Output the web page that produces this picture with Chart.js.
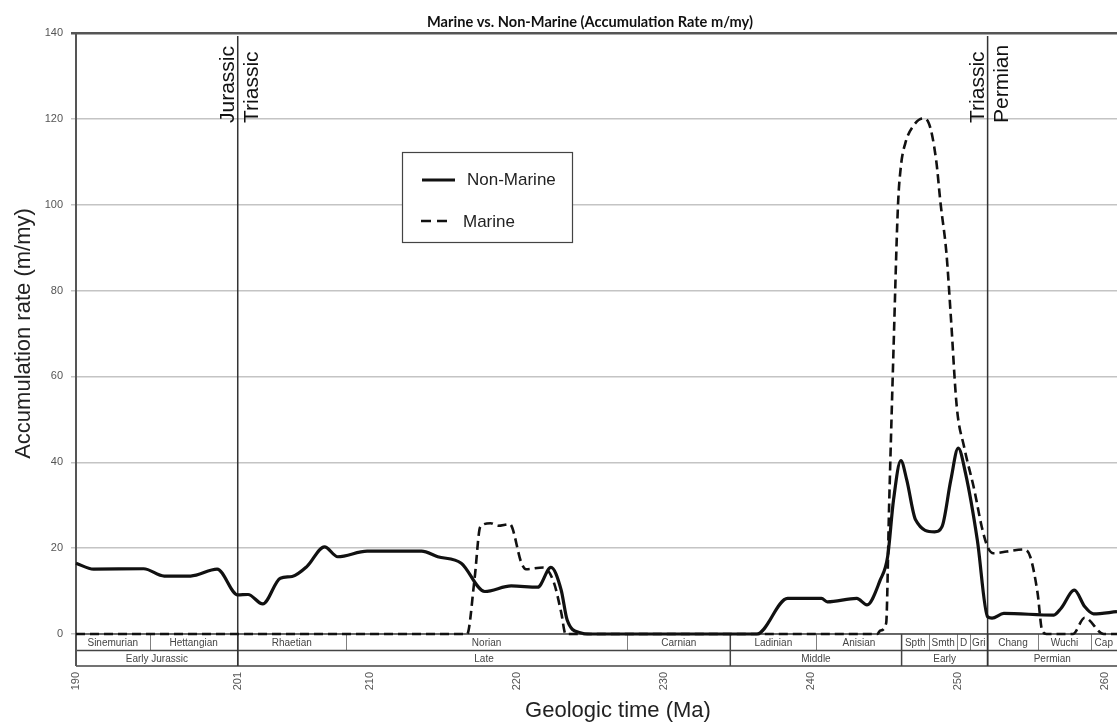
<!DOCTYPE html>
<html>
<head>
<meta charset="utf-8">
<script src="https://cdn.jsdelivr.net/npm/chart.js@4/dist/chart.umd.min.js"></script>
<style>
  html, body { margin: 0; padding: 0; background: #fff; }
  #wrap { width: 1117px; height: 723px; position: relative; }
</style>
</head>
<body>
<div id="wrap"><canvas id="c" width="1117" height="723"></canvas></div>
<script>
// Accumulation rate curves (age in Ma, rate in m/my)
const nonMarineAge = [190.0, 191.2, 194.6, 196.0, 197.8, 199.6, 201.0, 201.7, 202.7, 203.9, 204.7, 205.7, 206.9, 207.8, 209.8, 213.5, 214.6, 216.2, 217.8, 219.6, 221.4, 222.3, 223.0, 223.4, 224.3, 225.0, 236.3, 238.4, 240.7, 241.1, 243.1, 243.8, 244.7, 245.2, 245.6, 246.1, 246.5, 247.1, 248.4, 248.9, 249.5, 250.0, 250.5, 251.3, 252.0, 252.3, 253.1, 256.5, 257.0, 257.9, 258.6, 259.2, 260.8];
const nonMarineRate = [16.5, 15.1, 15.2, 13.5, 13.5, 15.1, 9.1, 9.2, 7.0, 13.0, 13.4, 15.7, 20.3, 18.0, 19.3, 19.3, 18.0, 16.5, 9.9, 11.2, 10.9, 15.5, 10.2, 3.3, 0.3, 0, 0, 8.3, 8.3, 7.5, 8.3, 6.8, 12.6, 18.0, 31.2, 40.4, 35.9, 26.6, 23.8, 25.0, 35.9, 43.3, 37.4, 21.9, 4.0, 3.7, 4.8, 4.4, 6.0, 10.2, 6.4, 4.7, 5.2];

const marineAge = [190.0, 216.6, 217.1, 217.5, 218.2, 218.7, 219.5, 220.3, 220.6, 221.8, 222.5, 223.0, 223.3, 244.5, 244.7, 245.1, 245.3, 245.6, 245.9, 246.1, 246.4, 247.0, 247.6, 248.0, 248.5, 248.8, 249.2, 249.5, 249.9, 250.4, 251.1, 251.6, 252.0, 252.4, 253.3, 254.5, 254.9, 255.4, 255.7, 256.0, 257.8, 258.6, 259.9, 260.8];
const marineRate = [0, 0, 12.6, 25.0, 25.8, 25.2, 25.6, 16.5, 15.1, 15.5, 12.0, 5.0, 0, 0, 0.8, 2.5, 29.7, 66.2, 99.5, 108.9, 114.3, 118.6, 120.1, 119.0, 110.4, 100.3, 88.7, 73.9, 53.0, 43.6, 33.5, 25.0, 20.3, 18.8, 19.2, 19.7, 18.0, 9.5, 0.9, 0, 0, 3.8, 0, 0];

// Axis ticks
const xTickValues = [190, 201, 210, 220, 230, 240, 250, 260];
const yTickValues = [0, 20, 40, 60, 80, 100, 120, 140];

// Timescale bar: stages (upper row) and series (lower row)
const stageNames = ['Sinemurian', 'Hettangian', 'Rhaetian', 'Norian', 'Carnian', 'Ladinian', 'Anisian', 'Spth', 'Smth', 'D', 'Gri', 'Chang', 'Wuchi', 'Cap'];
const stageBounds = [190, 195.0, 201, 208.35, 227.5, 234.5, 240.35, 246.15, 248.0, 249.95, 250.8, 252.0, 255.45, 259.0, 260.8];
const seriesNames = ['Early Jurassic', 'Late', 'Middle', 'Early', 'Permian'];
const seriesBounds = [190, 201, 234.5, 246.15, 252.0, 260.8];

// Period boundaries with the younger / older period names
const periodBoundaryAges = [201, 252.0];
const youngerPeriods = ['Jurassic', 'Triassic'];
const olderPeriods = ['Triassic', 'Permian'];

const seriesLabels = ['Non-Marine', 'Marine'];
const chartTitle = 'Marine vs. Non-Marine (Accumulation Rate m/my)';
const xTitle = 'Geologic time (Ma)';
const yTitle = 'Accumulation rate (m/my)';

const toPoints = (xs, ys) => xs.map((x, i) => ({ x: x, y: ys[i] }));

const SANS = '"Liberation Sans", Arial, sans-serif';

const overlay = {
  id: 'overlay',
  beforeDatasetsDraw(chart) {
    const ctx = chart.ctx;
    const xs = chart.scales.x;
    const area = chart.chartArea;
    const top = area.bottom, mid = area.bottom + 16.5, bot = area.bottom + 32;
    ctx.save();
    // stage separators
    ctx.strokeStyle = '#808080';
    ctx.lineWidth = 1;
    for (let i = 1; i < stageBounds.length - 1; i++) {
      if (seriesBounds.includes(stageBounds[i])) continue;
      const px = Math.round(xs.getPixelForValue(stageBounds[i])) + 0.5;
      ctx.beginPath(); ctx.moveTo(px, top); ctx.lineTo(px, mid); ctx.stroke();
    }
    // series separators
    ctx.strokeStyle = '#444';
    ctx.lineWidth = 1.5;
    for (let i = 1; i < seriesBounds.length - 1; i++) {
      const px = xs.getPixelForValue(seriesBounds[i]);
      ctx.beginPath(); ctx.moveTo(px, top); ctx.lineTo(px, bot); ctx.stroke();
    }
    // horizontal rules of the bar
    [top, mid, bot].forEach(y => {
      ctx.beginPath(); ctx.moveTo(area.left, y); ctx.lineTo(area.right, y); ctx.stroke();
    });
    // left frame through the bar
    ctx.strokeStyle = '#555';
    ctx.lineWidth = 2;
    ctx.beginPath(); ctx.moveTo(area.left, area.top); ctx.lineTo(area.left, bot); ctx.stroke();
    // period boundary lines
    ctx.strokeStyle = '#333';
    ctx.lineWidth = 1.5;
    periodBoundaryAges.forEach(a => {
      const px = xs.getPixelForValue(a);
      ctx.beginPath(); ctx.moveTo(px, area.top + 3); ctx.lineTo(px, bot); ctx.stroke();
    });
    // bar labels
    ctx.fillStyle = '#444';
    ctx.font = '10px ' + SANS;
    ctx.textAlign = 'center';
    ctx.textBaseline = 'middle';
    stageNames.forEach((n, i) => {
      const c = (xs.getPixelForValue(stageBounds[i]) + xs.getPixelForValue(stageBounds[i + 1])) / 2;
      ctx.fillText(n, c, (top + mid) / 2 + 0.5);
    });
    seriesNames.forEach((n, i) => {
      const c = (xs.getPixelForValue(seriesBounds[i]) + xs.getPixelForValue(seriesBounds[i + 1])) / 2;
      ctx.fillText(n, c, (mid + bot) / 2 + 0.5);
    });
    ctx.restore();
  },
  afterDraw(chart) {
    const ctx = chart.ctx;
    const xs = chart.scales.x;
    const area = chart.chartArea;
    ctx.save();
    // period names beside the boundary lines
    ctx.fillStyle = '#111';
    ctx.font = '21px ' + SANS;
    ctx.textAlign = 'left';
    ctx.textBaseline = 'alphabetic';
    periodBoundaryAges.forEach((a, i) => {
      const px = xs.getPixelForValue(a);
      [[youngerPeriods[i], px - 3.5], [olderPeriods[i], px + 20.5]].forEach(([t, bx]) => {
        ctx.save();
        ctx.translate(bx, 123);
        ctx.rotate(-Math.PI / 2);
        ctx.fillText(t, 0, 0);
        ctx.restore();
      });
    });
    // legend box
    const lx = 402, ly = 152, lw = 170, lh = 90;
    ctx.fillStyle = '#fff';
    ctx.fillRect(lx, ly, lw, lh);
    ctx.strokeStyle = '#444';
    ctx.lineWidth = 1.2;
    ctx.strokeRect(lx + 0.5, ly + 0.5, lw, lh);
    ctx.strokeStyle = '#111';
    ctx.lineWidth = 3;
    ctx.beginPath(); ctx.moveTo(422, 180); ctx.lineTo(455, 180); ctx.stroke();
    ctx.lineWidth = 2.6;
    ctx.setLineDash([10, 6]);
    ctx.beginPath(); ctx.moveTo(421, 221); ctx.lineTo(453, 221); ctx.stroke();
    ctx.setLineDash([]);
    ctx.fillStyle = '#222';
    ctx.font = '17px ' + SANS;
    ctx.textBaseline = 'middle';
    ctx.fillText(seriesLabels[0], 467, 180);
    ctx.fillText(seriesLabels[1], 463, 222);
    // chart title
    ctx.font = 'bold 16px Lato, "Open Sans", sans-serif';
    ctx.fillStyle = '#111';
    ctx.textAlign = 'center';
    ctx.textBaseline = 'alphabetic';
    const tw = ctx.measureText(chartTitle).width;
    ctx.save();
    ctx.translate(590, 27);
    ctx.scale(Math.min(1, 326 / tw), 1);
    ctx.fillText(chartTitle, 0, 0);
    ctx.restore();
    // axis titles
    ctx.fillStyle = '#222';
    ctx.font = '22px ' + SANS;
    ctx.fillText(xTitle, 618, 717);
    ctx.save();
    ctx.translate(29.5, (area.top + area.bottom) / 2);
    ctx.rotate(-Math.PI / 2);
    ctx.fillText(yTitle, 0, 0);
    ctx.restore();
    ctx.restore();
  }
};

new Chart(document.getElementById('c'), {
  type: 'line',
  data: {
    datasets: [
      {
        label: seriesLabels[0],
        data: toPoints(nonMarineAge, nonMarineRate),
        borderColor: '#111',
        borderWidth: 3.2,
        pointRadius: 0,
        cubicInterpolationMode: 'monotone',
        clip: false
      },
      {
        label: seriesLabels[1],
        data: toPoints(marineAge, marineRate),
        borderColor: '#111',
        borderWidth: 2.6,
        borderDash: [9, 5],
        pointRadius: 0,
        cubicInterpolationMode: 'monotone',
        clip: false
      }
    ]
  },
  options: {
    responsive: false,
    devicePixelRatio: 1,
    animation: false,
    layout: { padding: { top: 33, left: 0, right: 0, bottom: 0 } },
    plugins: { legend: { display: false }, tooltip: { enabled: false }, title: { display: false } },
    scales: {
      x: {
        type: 'linear',
        min: 190,
        max: 260.8,
        afterBuildTicks(scale) { scale.ticks = xTickValues.map(v => ({ value: v })); },
        afterFit(scale) { scale.height = 89; scale.paddingLeft = 0; scale.paddingRight = 0; },
        grid: { display: false, drawTicks: false },
        border: { display: false },
        ticks: {
          autoSkip: false,
          minRotation: 90,
          maxRotation: 90,
          padding: 38,
          color: '#555',
          font: { size: 11, family: SANS },
          callback: v => String(v)
        }
      },
      y: {
        min: 0,
        max: 140,
        afterBuildTicks(scale) { scale.ticks = yTickValues.map(v => ({ value: v })); },
        afterFit(scale) { scale.width = 76; scale.paddingTop = 0; scale.paddingBottom = 0; },
        grid: {
          color: c => (c.tick && c.tick.value === 140) ? '#555' : '#c4c4c4',
          lineWidth: c => (c.tick && c.tick.value === 140) ? 2.5 : 1.5,
          drawTicks: true,
          tickLength: 5
        },
        border: { display: true, color: '#555', width: 2 },
        ticks: {
          padding: 8,
          color: '#555',
          font: { size: 11, family: SANS }
        }
      }
    }
  },
  plugins: [overlay]
});
</script>
</body>
</html>
